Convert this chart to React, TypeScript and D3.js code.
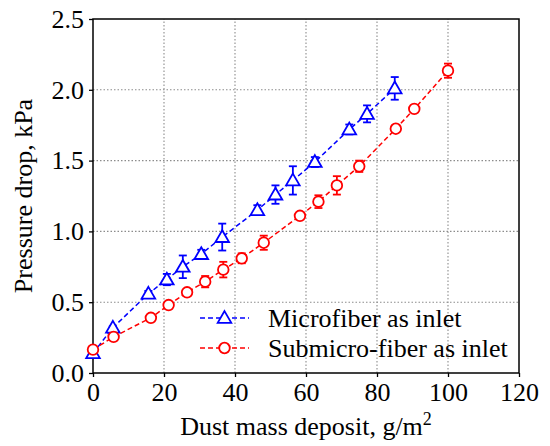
import { useEffect, useRef } from 'react'
import * as d3 from 'd3'

// --- DATA ---
const microX = [0, 5.6, 15.6, 20.8, 25.3, 30.5, 36.4, 46.3, 51.4, 56.3, 62.5, 72.2, 77.2, 85.0]
const microY = [0.14, 0.32, 0.56, 0.66, 0.75, 0.84, 0.96, 1.15, 1.26, 1.36, 1.49, 1.72, 1.83, 2.01]
const microErr = [0.01, 0.01, 0.02, 0.04, 0.08, 0.03, 0.095, 0.035, 0.065, 0.1, 0.035, 0.035, 0.06, 0.08]

const subX = [0, 5.8, 16.3, 21.3, 26.5, 31.6, 36.7, 41.9, 48.1, 58.3, 63.5, 68.7, 75.0, 85.3, 90.5, 100]
const subY = [0.165, 0.255, 0.39, 0.48, 0.57, 0.645, 0.73, 0.81, 0.92, 1.11, 1.21, 1.325, 1.46, 1.725, 1.865, 2.135]
const subErr = [0.01, 0.01, 0.015, 0.015, 0.02, 0.04, 0.055, 0.035, 0.05, 0.02, 0.045, 0.065, 0.04, 0.02, 0.02, 0.05]

const xTicks = [0, 20, 40, 60, 80, 100, 120]
const yTicks = [0, 0.5, 1.0, 1.5, 2.0, 2.5]

const seriesNames = ['Microfiber as inlet', 'Submicro-fiber as inlet']

type Pt = { x: number; y: number; e: number }

const FONT = '"Liberation Serif", serif'
const FS = 26

export default function App() {
  const svgRef = useRef<SVGSVGElement | null>(null)

  useEffect(() => {
    if (!svgRef.current) return
    const width = 550
    const height = 446
    const margin = { left: 93, right: 31, top: 19, bottom: 73 }

    const svg = d3.select(svgRef.current)
    svg.selectAll('*').remove()

    const x = d3.scaleLinear().domain([0, 120]).range([margin.left, width - margin.right])
    const y = d3.scaleLinear().domain([0, 2.5]).range([height - margin.bottom, margin.top])

    // --- GRID ---
    const grid = svg.append('g')
    xTicks.slice(1, -1).forEach((t) => {
      grid.append('line')
        .attr('x1', x(t)).attr('x2', x(t))
        .attr('y1', y(0)).attr('y2', y(2.5))
        .attr('stroke', '#8c8c8c').attr('stroke-width', 1.1)
        .attr('stroke-dasharray', '1.5,2')
    })
    yTicks.slice(1, -1).forEach((t) => {
      grid.append('line')
        .attr('x1', x(0)).attr('x2', x(120))
        .attr('y1', y(t)).attr('y2', y(t))
        .attr('stroke', '#8c8c8c').attr('stroke-width', 1.1)
        .attr('stroke-dasharray', '1.5,2')
    })

    // --- AXES ---
    const xAxis = d3.axisBottom(x).tickValues(xTicks).tickSize(4).tickPadding(6).tickFormat(d3.format('d'))
    const yAxis = d3.axisLeft(y).tickValues(yTicks).tickSize(4).tickPadding(5).tickFormat(d3.format('.1f'))

    const gx = svg.append('g').attr('transform', `translate(0, ${y(0)})`).call(xAxis)
    const gy = svg.append('g').attr('transform', `translate(${x(0)}, 0)`).call(yAxis)
    ;[gx, gy].forEach((g) => {
      g.select('.domain').remove()
      g.selectAll('line').attr('stroke', '#000').attr('stroke-width', 1.3)
      g.selectAll('text').attr('font-family', FONT).attr('font-size', FS).attr('fill', '#000')
    })

    // frame
    svg.append('rect')
      .attr('x', x(0)).attr('y', y(2.5))
      .attr('width', x(120) - x(0)).attr('height', y(0) - y(2.5))
      .attr('fill', 'none').attr('stroke', '#000').attr('stroke-width', 1.5)

    // --- SERIES ---
    const micro: Pt[] = microX.map((v, i) => ({ x: v, y: microY[i], e: microErr[i] }))
    const sub: Pt[] = subX.map((v, i) => ({ x: v, y: subY[i], e: subErr[i] }))

    const line = d3.line<Pt>().x((p) => x(p.x)).y((p) => y(p.y))
    const tri = d3.symbol().type(d3.symbolTriangle).size(80)

    const drawSeries = (pts: Pt[], color: string, marker: 'tri' | 'circle') => {
      const g = svg.append('g')
      g.append('path')
        .datum(pts)
        .attr('d', line)
        .attr('fill', 'none')
        .attr('stroke', color)
        .attr('stroke-width', 1.5)
        .attr('stroke-dasharray', '5,3')

      // error bars
      pts.forEach((p) => {
        const top = y(p.y + p.e)
        const bot = y(p.y - p.e)
        g.append('line')
          .attr('x1', x(p.x)).attr('x2', x(p.x))
          .attr('y1', top).attr('y2', bot)
          .attr('stroke', color).attr('stroke-width', 1.8)
        ;[top, bot].forEach((yy) => {
          g.append('line')
            .attr('x1', x(p.x) - 4).attr('x2', x(p.x) + 4)
            .attr('y1', yy).attr('y2', yy)
            .attr('stroke', color).attr('stroke-width', 1.8)
        })
      })

      pts.forEach((p) => {
        if (marker === 'tri') {
          g.append('path')
            .attr('d', tri())
            .attr('transform', `translate(${x(p.x)}, ${y(p.y) + 1})`)
            .attr('fill', '#fff').attr('stroke', color).attr('stroke-width', 1.8)
        } else {
          g.append('circle')
            .attr('cx', x(p.x)).attr('cy', y(p.y)).attr('r', 5.3)
            .attr('fill', '#fff').attr('stroke', color).attr('stroke-width', 1.8)
        }
      })
    }

    drawSeries(micro, '#0000ff', 'tri')
    drawSeries(sub, '#ff0000', 'circle')

    // --- LEGEND ---
    const legend = svg.append('g')
    const rows = [
      { name: seriesNames[0], color: '#0000ff', marker: 'tri' },
      { name: seriesNames[1], color: '#ff0000', marker: 'circle' },
    ]
    rows.forEach((r, i) => {
      const ly = 318 + i * 30
      legend.append('line')
        .attr('x1', 200).attr('x2', 249)
        .attr('y1', ly).attr('y2', ly)
        .attr('stroke', r.color).attr('stroke-width', 1.5)
        .attr('stroke-dasharray', '5,3')
      if (r.marker === 'tri') {
        legend.append('path')
          .attr('d', tri())
          .attr('transform', `translate(224.5, ${ly + 1})`)
          .attr('fill', '#fff').attr('stroke', r.color).attr('stroke-width', 1.8)
      } else {
        legend.append('circle')
          .attr('cx', 224.5).attr('cy', ly).attr('r', 5.3)
          .attr('fill', '#fff').attr('stroke', r.color).attr('stroke-width', 1.8)
      }
      legend.append('text')
        .attr('x', 268).attr('y', ly + 9)
        .attr('font-family', FONT).attr('font-size', FS)
        .text(r.name)
    })

    // --- AXIS TITLES ---
    const xt = svg.append('text')
      .attr('x', (x(0) + x(120)) / 2).attr('y', 435)
      .attr('text-anchor', 'middle')
      .attr('font-family', FONT).attr('font-size', FS)
    xt.append('tspan').text('Dust mass deposit, g/m')
    xt.append('tspan').attr('dy', -10).attr('font-size', 18).text('2')

    svg.append('text')
      .attr('transform', `translate(32, ${(y(0) + y(2.5)) / 2}) rotate(-90)`)
      .attr('text-anchor', 'middle')
      .attr('font-family', FONT).attr('font-size', FS)
      .text('Pressure drop, kPa')
  }, [])

  return (
    <div style={{ position: 'absolute', left: 0, top: 0, width: 550, height: 446, background: '#fff' }}>
      <svg ref={svgRef} width={550} height={446} />
    </div>
  )
}
